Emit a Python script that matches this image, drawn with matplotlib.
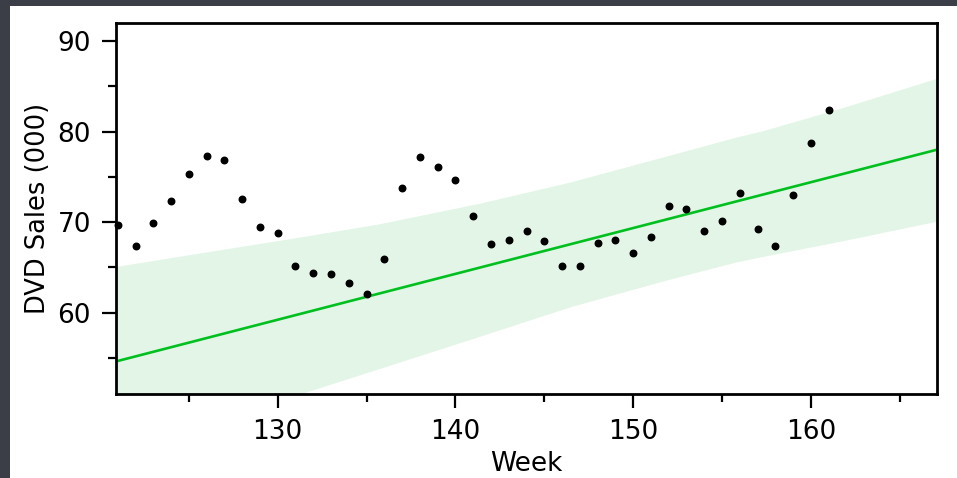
import matplotlib
matplotlib.use("Agg")
import matplotlib.pyplot as plt
from matplotlib.patches import Rectangle
from matplotlib.ticker import MultipleLocator

# weekly DVD sales (thousands), weeks 121..161
weeks = list(range(121, 162))
sales = [69.7, 67.4, 69.9, 72.3, 75.3, 77.3, 76.9, 72.5, 69.5, 68.8,
         65.1, 64.4, 64.3, 63.3, 62.1, 65.9, 73.8, 77.2, 76.1, 74.7,
         70.7, 67.6, 68.0, 69.0, 67.9, 65.1, 65.1, 67.7, 68.0, 66.6,
         68.3, 71.8, 71.4, 69.0, 70.1, 73.2, 69.2, 67.4, 73.0, 78.7,
         82.4]

# fitted trend line
trend_weeks = [120.9, 167.1]
trend_sales = [54.6, 78.0]

# prediction band
band_weeks = [120.9, 131.4, 135.7, 141.4, 146.4, 151.5, 155.8, 157.3, 161.7, 167.1]
band_upper = [65.1, 68.4, 69.8, 72.1, 74.4, 77.1, 79.4, 80.1, 82.6, 85.9]
band_lower = [44.5, 51.1, 53.8, 57.4, 60.6, 63.4, 65.6, 66.2, 67.9, 70.1]

fig = plt.figure(figsize=(9.57, 4.78), dpi=100, facecolor="#3b3e46")
fig.patches.append(Rectangle((10 / 957, 0), 1, 1 - 6 / 478, transform=fig.transFigure,
                             facecolor="white", edgecolor="none", zorder=-5))

ax = fig.add_axes([116 / 957, 1 - 394 / 478, 821 / 957, 371 / 478])
ax.set_facecolor("white")

ax.fill_between(band_weeks, band_lower, band_upper, color="#e3f5e7", lw=0, zorder=1)
ax.plot(trend_weeks, trend_sales, color="#00c020", lw=1.9, zorder=2)
ax.scatter(weeks, sales, s=22, color="black", zorder=3, clip_on=False)

ax.set_xlim(120.9, 167.1)
ax.set_ylim(51, 92)
ax.xaxis.set_major_locator(MultipleLocator(10))
ax.xaxis.set_minor_locator(MultipleLocator(5))
ax.yaxis.set_major_locator(MultipleLocator(10))
ax.yaxis.set_minor_locator(MultipleLocator(5))

for s in ax.spines.values():
    s.set_linewidth(2)
ax.tick_params(which="major", length=10, width=1.6, labelsize=19, pad=8)
ax.tick_params(which="minor", length=5.5, width=1.6)

ax.set_xlabel("Week", fontsize=19, labelpad=4)
ax.set_ylabel("DVD Sales (000)", fontsize=18.5, labelpad=5)

fig.savefig("out.png", dpi=100, facecolor=fig.get_facecolor())
